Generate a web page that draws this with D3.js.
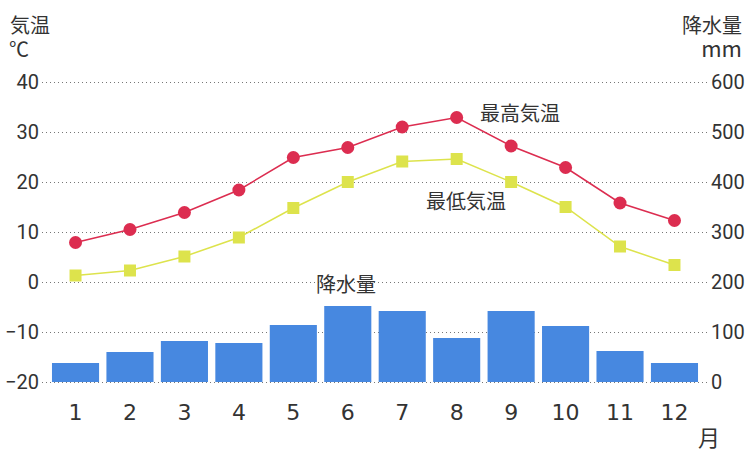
<!DOCTYPE html>
<html>
<head>
<meta charset="utf-8">
<script src="https://cdn.jsdelivr.net/npm/d3@7"></script>
<style>
  html, body { margin: 0; padding: 0; background: #fff; }
  svg { display: block; }
</style>
</head>
<body>
<svg id="imagen" width="750" height="466"></svg>
<script>
// data
const months = ["1", "2", "3", "4", "5", "6", "7", "8", "9", "10", "11", "12"];
const tempMax = [7.9, 10.5, 13.9, 18.4, 24.9, 26.9, 31, 32.9, 27.2, 22.9, 15.8, 12.3];
const tempMin = [1.3, 2.3, 5.1, 8.9, 14.8, 20, 24.1, 24.6, 20, 15, 7.1, 3.4];
const precip = [38, 60, 82, 78, 114, 152, 142, 88, 142, 112, 62, 38];
const tempTicks = [-20, -10, 0, 10, 20, 30, 40];
const precipTicks = [0, 100, 200, 300, 400, 500, 600];

var width = 750;
var height = 466;
var margin = { top: 82, right: 48, bottom: 84, left: 48 };
const svg = d3.select("#imagen");

var x = d3
  .scaleBand()
  .domain(months)
  .range([margin.left + 0.3, width - margin.right - 0.3])
  .paddingInner(0.135)
  .paddingOuter(0.0675);

var yT = d3
  .scaleLinear()
  .domain([-20, 40])
  .range([height - margin.bottom, margin.top]);

var yP = d3
  .scaleLinear()
  .domain([0, 600])
  .range([height - margin.bottom, margin.top]);

var cx = d => x(d) + x.bandwidth() / 2;
var jp = "'Noto Sans CJK JP', sans-serif";

// grid lines
svg
  .append("g")
  .selectAll("line")
  .data(tempTicks)
  .join("line")
  .attr("x1", 42)
  .attr("x2", 710)
  .attr("y1", d => yT(d) + 0.5)
  .attr("y2", d => yT(d) + 0.5)
  .attr("stroke", "#777")
  .attr("stroke-width", 1)
  .attr("stroke-dasharray", "1,3");

// precipitation bars
svg
  .append("g")
  .selectAll("rect")
  .data(precip)
  .join("rect")
  .attr("x", (d, i) => x(months[i]))
  .attr("y", d => yP(d))
  .attr("width", x.bandwidth())
  .attr("height", d => yP(0) - yP(d))
  .attr("fill", "#4788e0");

// left axis
var yAxisL = g =>
  g
    .attr("transform", "translate(40,0)")
    .call(d3.axisLeft(yT).tickValues(tempTicks).tickSize(0).tickPadding(1))
    .call(g => g.select(".domain").remove())
    .call(g =>
      g
        .selectAll("text")
        .attr("font-family", "Roboto, sans-serif")
        .attr("font-size", 20)
        .attr("fill", "#333")
    );

// right axis
var yAxisR = g =>
  g
    .attr("transform", "translate(710,0)")
    .call(d3.axisRight(yP).tickValues(precipTicks).tickSize(0).tickPadding(1))
    .call(g => g.select(".domain").remove())
    .call(g =>
      g
        .selectAll("text")
        .attr("font-family", "Roboto, sans-serif")
        .attr("font-size", 20)
        .attr("fill", "#333")
    );

// bottom axis
var xAxis = g =>
  g
    .attr("transform", `translate(0,${height - margin.bottom})`)
    .call(d3.axisBottom(x).tickSize(0).tickPadding(22))
    .call(g => g.select(".domain").remove())
    .call(g =>
      g
        .selectAll("text")
        .attr("font-family", "'DejaVu Sans', sans-serif")
        .attr("font-size", 22)
        .attr("fill", "#333")
    );

svg.append("g").call(yAxisL);
svg.append("g").call(yAxisR);
svg.append("g").call(xAxis);

// temperature lines
var line = d3
  .line()
  .x((d, i) => cx(months[i]))
  .y(d => yT(d));

svg
  .append("path")
  .datum(tempMin)
  .attr("fill", "none")
  .attr("stroke", "#dde34c")
  .attr("stroke-width", 1.5)
  .attr("d", line);

svg
  .append("path")
  .datum(tempMax)
  .attr("fill", "none")
  .attr("stroke", "#dc2d50")
  .attr("stroke-width", 1.5)
  .attr("d", line);

svg
  .append("g")
  .selectAll("rect")
  .data(tempMin)
  .join("rect")
  .attr("x", (d, i) => cx(months[i]) - 6)
  .attr("y", d => yT(d) - 6)
  .attr("width", 12)
  .attr("height", 12)
  .attr("fill", "#dde34c");

svg
  .append("g")
  .selectAll("circle")
  .data(tempMax)
  .join("circle")
  .attr("cx", (d, i) => cx(months[i]))
  .attr("cy", d => yT(d))
  .attr("r", 6.5)
  .attr("fill", "#dc2d50");

// labels
var label = (txt, xx, yy, anchor, size) =>
  svg
    .append("text")
    .attr("x", xx)
    .attr("y", yy)
    .attr("text-anchor", anchor || "start")
    .attr("font-family", jp)
    .attr("font-size", size || 20)
    .attr("fill", "#333")
    .text(txt);

label("気温", 10, 33);
label("℃", 9, 57);
label("降水量", 742, 33, "end");
label("mm", 742, 57, "end", 22);
label("最高気温", 480, 121);
label("最低気温", 426, 209);
label("降水量", 316, 292);
label("月", 698, 446, "start", 22);
</script>
</body>
</html>
